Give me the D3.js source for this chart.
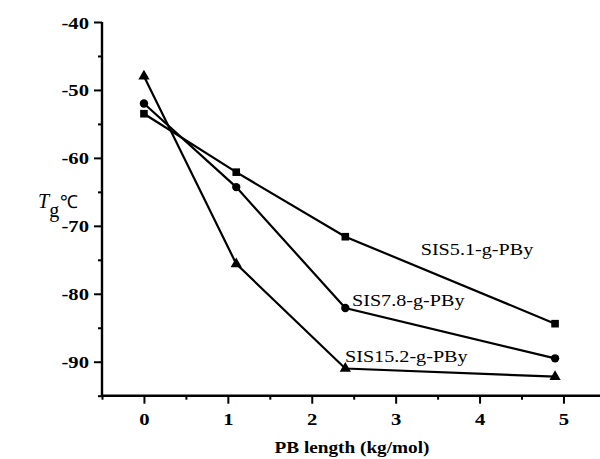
<!DOCTYPE html>
<html><head><meta charset="utf-8">
<script src="https://cdn.jsdelivr.net/npm/d3@7"></script>
<style>body{margin:0;background:#fff}svg{display:block}
svg text{font-family:"Liberation Serif","Times New Roman",Times,serif;}
</style>
</head><body>
<svg id="c" width="600" height="459"></svg>
<script>
const pbLength = [0, 1.1, 2.4, 4.9];
const sis51 = [-53.5, -62.1, -71.6, -84.4];
const sis78 = [-52.0, -64.3, -82.1, -89.5];
const sis152 = [-48.0, -75.6, -91.0, -92.2];
const seriesNames = ["SIS5.1-g-PBy", "SIS7.8-g-PBy", "SIS15.2-g-PBy"];
const xTicks = [0, 1, 2, 3, 4, 5];
const yTicks = [-40, -50, -60, -70, -80, -90];

const svg = d3.select("#c");
const x = d3.scaleLinear().domain([-0.5, 5.5]).range([102, 605.4]);
const y = d3.scaleLinear().domain([-95, -40]).range([395.7, 22]);
const SX = 1.18;

const yAx = d3.axisLeft(y).tickValues(yTicks).tickSize(8).tickFormat(d => String(d));
const yMin = d3.axisLeft(y).tickValues(d3.range(-95, -40, 10)).tickSize(4).tickFormat("");
const xAx = d3.axisBottom(x).tickValues(xTicks).tickSize(8).tickFormat(d => String(d));
const xMin = d3.axisBottom(x).tickValues(d3.range(-0.5, 5.6, 1)).tickSize(4).tickFormat("");

function styleAxis(g){
  g.attr("font-family", null);
  g.select(".domain").attr("stroke","#000").attr("stroke-width",2.4);
  g.selectAll(".tick line").attr("stroke","#000").attr("stroke-width",2);
}
const gy = svg.append("g").attr("transform","translate(102,0)").call(yAx).call(styleAxis);
svg.append("g").attr("transform","translate(102,0)").call(yMin).call(styleAxis).select(".domain").remove();
const gx = svg.append("g").attr("transform","translate(0,395.7)").call(xAx).call(styleAxis);
svg.append("g").attr("transform","translate(0,395.7)").call(xMin).call(styleAxis).select(".domain").remove();
gy.select(".domain").attr("d", `M0,${y(-40)}H0V${y(-95)+1.2}`);
gx.select(".domain").attr("d", `M101,0H605`);

gy.selectAll(".tick text").attr("font-weight","bold").attr("font-size",17.5)
  .attr("fill","#000").attr("x",0).attr("dy",0).attr("text-anchor","end")
  .attr("transform", `translate(-13,6) scale(${SX},1)`);
gx.selectAll(".tick text").attr("font-weight","bold").attr("font-size",17.5)
  .attr("fill","#000").attr("y",0).attr("dy",0)
  .attr("transform", `translate(0,29.5) scale(${SX},1)`);

const series = [
  {name: seriesNames[0], vals: sis51, sym: d3.symbolSquare, size: 58, lx: 420.7, ly: 255},
  {name: seriesNames[1], vals: sis78, sym: d3.symbolCircle, size: 55, lx: 352, ly: 306},
  {name: seriesNames[2], vals: sis152, sym: d3.symbolTriangle, size: 55, lx: 345, ly: 362}
];
const line = d3.line().x((d,i)=>x(pbLength[i])).y(d=>y(d));
series.forEach(s=>{
  svg.append("path").attr("d", line(s.vals)).attr("fill","none").attr("stroke","#000").attr("stroke-width",2.2);
  svg.selectAll(null).data(s.vals).enter().append("path")
    .attr("d", d3.symbol().type(s.sym).size(s.size))
    .attr("transform",(d,i)=>`translate(${x(pbLength[i])},${y(d)})`)
    .attr("fill","#000");
  svg.append("text").attr("font-size",16.8).attr("fill","#000")
    .attr("transform",`translate(${s.lx},${s.ly}) scale(1.2,1)`).text(s.name);
});

svg.append("text").attr("font-weight","bold").attr("font-size",17.5)
  .attr("text-anchor","middle").attr("transform",`translate(352,453) scale(1.1,1)`).text("PB length (kg/mol)");
const t = svg.append("text").attr("font-size",20).attr("transform","translate(38,208)");
t.append("tspan").attr("font-style","italic").text("T");
t.append("tspan").attr("dy",9).attr("font-size",20).text("g");
t.append("tspan").attr("dy",-9).attr("dx",1).attr("font-size",18).text("℃");
</script>
</body></html>
